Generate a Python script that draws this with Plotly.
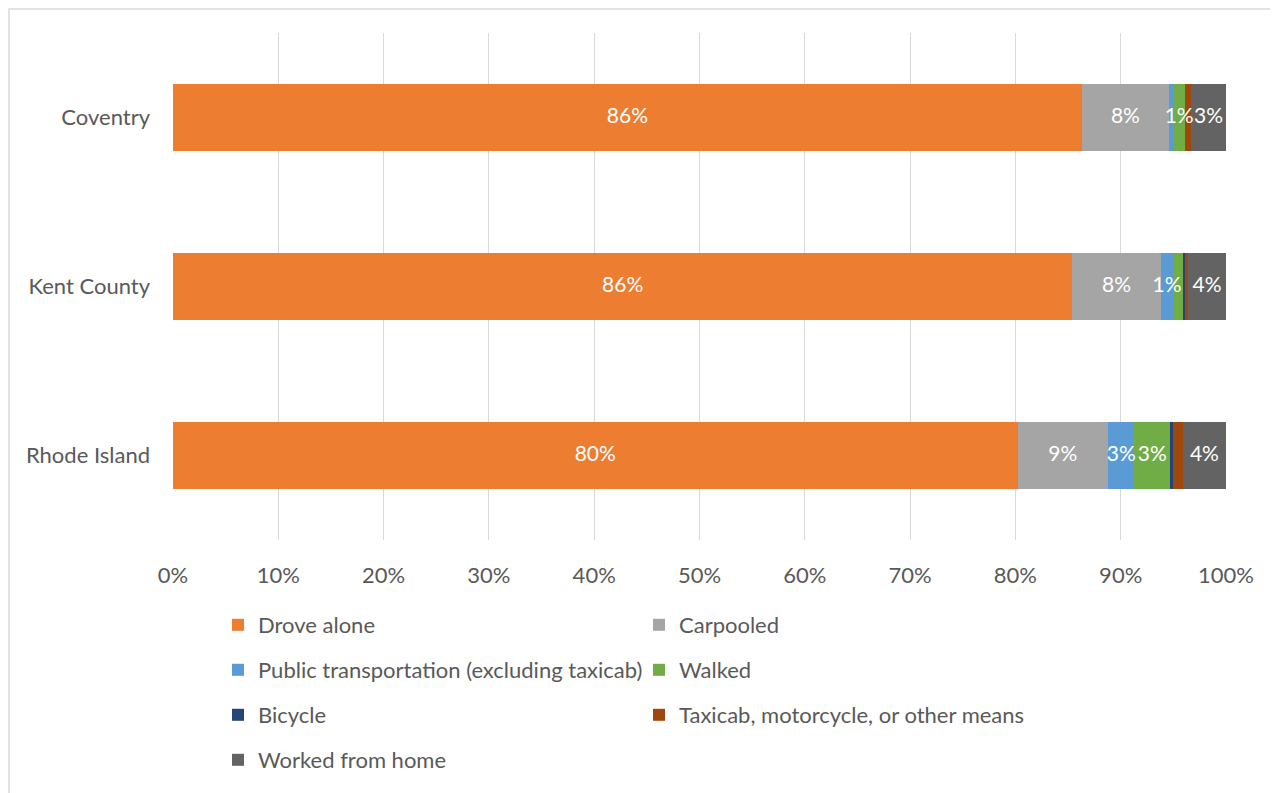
import plotly.graph_objects as go

categories = ["Coventry", "Kent County", "Rhode Island"]
modes = ["Drove alone", "Carpooled", "Public transportation (excluding taxicab)",
         "Walked", "Bicycle", "Taxicab, motorcycle, or other means", "Worked from home"]
colors = ["#ED7D31", "#A5A5A5", "#5B9BD5", "#70AD47", "#264478", "#9E480E", "#636363"]

drove_alone = [86.3, 85.4, 80.2]
carpooled = [8.3, 8.4, 8.6]
public_transit = [0.4, 1.2, 2.5]
walked = [1.1, 1.0, 3.4]
bicycle = [0.0, 0.1, 0.3]
taxi_other = [0.6, 0.3, 0.9]
worked_home = [3.3, 3.6, 4.1]

labels_drove = ["86%", "86%", "80%"]
labels_carpool = ["8%", "8%", "9%"]
labels_transit = ["", "1%", "3%"]
labels_walked = ["1%", "", "3%"]
labels_bicycle = ["", "", ""]
labels_taxi = ["", "", ""]
labels_home = ["3%", "4%", "4%"]

series = [drove_alone, carpooled, public_transit, walked, bicycle, taxi_other, worked_home]
labels = [labels_drove, labels_carpool, labels_transit, labels_walked,
          labels_bicycle, labels_taxi, labels_home]
legend_ids = ["legend", "legend", "legend2", "legend2", "legend3", "legend3", "legend4"]

FONT = "Lato, Calibri, sans-serif"
GREY = "#595959"

fig = go.Figure()
for name, vals, col, lg in zip(modes, series, colors, legend_ids):
    fig.add_trace(go.Bar(
        y=categories, x=vals, name=name, orientation="h",
        marker=dict(color=col, line=dict(width=0)),
        legend=lg, hoverinfo="name+x",
    ))

# data labels, placed at the middle of each stacked segment
lab_x, lab_y, lab_t = [], [], []
start = [0.0] * len(categories)
for vals, txt in zip(series, labels):
    for i, cat in enumerate(categories):
        if txt[i]:
            lab_x.append(start[i] + vals[i] / 2)
            lab_y.append(cat)
            lab_t.append(txt[i])
        start[i] += vals[i]
fig.add_trace(go.Scatter(
    x=lab_x, y=lab_y, text=lab_t, mode="text", textposition="middle center",
    textfont=dict(color="white", size=21, family=FONT),
    showlegend=False, hoverinfo="skip", cliponaxis=False,
))

# page body adds an 8px offset, so the figure is 8px smaller and shifted
OFF = 8
W, H = 1278 - OFF, 793 - OFF
ml, mr, mt, mb = 173 - OFF, 52, 33 - OFF, 253
pw, ph = W - ml - mr, H - mt - mb

def leg(ypix):
    return dict(orientation="h", x=(232 - OFF - 14 - ml) / pw, xanchor="left",
                y=(H - mb - (ypix - OFF)) / ph, yanchor="middle", entrywidth=376,
                traceorder="normal",
                font=dict(family=FONT, size=22, color=GREY),
                bgcolor="rgba(0,0,0,0)", itemclick=False, tracegroupgap=0)

fig.update_layout(
    width=W, height=H, barmode="stack", bargap=0.6,
    margin=dict(l=ml, r=mr, t=mt, b=mb, autoexpand=False),
    paper_bgcolor="white", plot_bgcolor="white",
    font=dict(family=FONT, size=22, color=GREY),
    xaxis=dict(range=[0, 100], tickvals=list(range(0, 101, 10)),
               ticktext=[f"{v}%" for v in range(0, 101, 10)],
               showgrid=True, gridcolor="#D9D9D9", gridwidth=1.3,
               zeroline=False, showline=False, ticks="", ticklabelstandoff=20,
               tickfont=dict(size=22, color=GREY, family=FONT), fixedrange=True),
    yaxis=dict(autorange="reversed", showgrid=False, zeroline=False, showline=False,
               ticks="", ticklabelstandoff=22,
               tickfont=dict(size=22, color=GREY, family=FONT), fixedrange=True),
    legend=leg(625), legend2=leg(670), legend3=leg(715), legend4=leg(760),
    shapes=[dict(type="rect", xref="paper", yref="paper",
                 x0=(1 - ml) / pw, x1=(1290 - ml) / pw,
                 y0=(H - mb - 800) / ph, y1=(H - mb - 1) / ph,
                 line=dict(color="#D9D9D9", width=1.5), fillcolor="rgba(0,0,0,0)",
                 layer="below")],
)

fig.write_html("out.html")
